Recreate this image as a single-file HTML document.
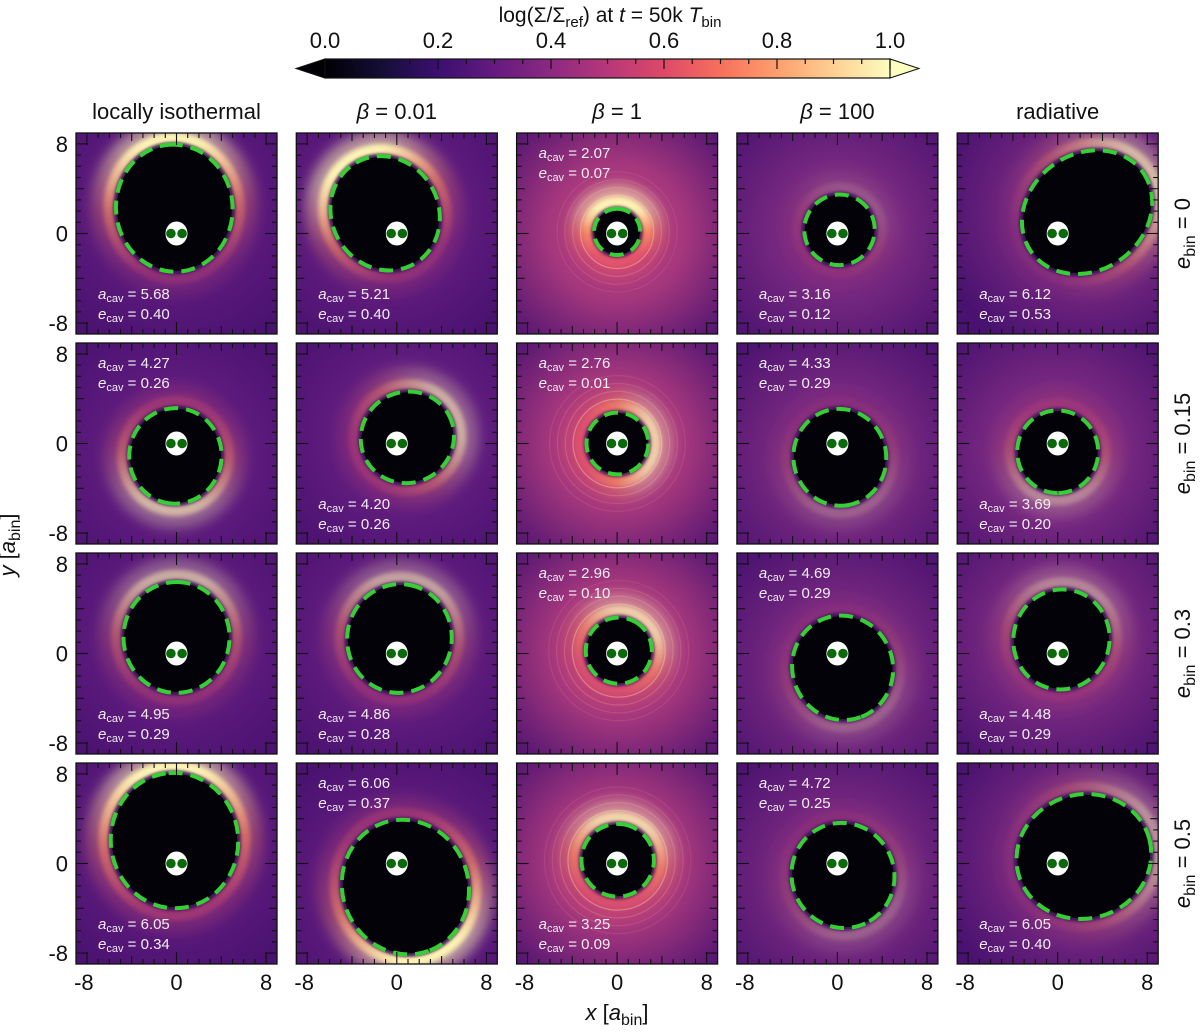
<!DOCTYPE html>
<html><head><meta charset="utf-8">
<style>
html,body{margin:0;padding:0;background:#fff;}
body{width:1200px;height:1031px;overflow:hidden;font-family:"Liberation Sans","DejaVu Sans",sans-serif;}
svg text{font-family:"Liberation Sans","DejaVu Sans",sans-serif;}
</style></head>
<body>
<svg id="fig" width="1200" height="1031" viewBox="0 0 1200 1031" xmlns="http://www.w3.org/2000/svg">
<defs>
<linearGradient id="magma" x1="0" x2="1" y1="0" y2="0">
<stop offset="0" stop-color="#000004"/><stop offset="0.1" stop-color="#140e36"/><stop offset="0.2" stop-color="#3b0f70"/>
<stop offset="0.3" stop-color="#641a80"/><stop offset="0.4" stop-color="#8c2981"/><stop offset="0.5" stop-color="#b73779"/>
<stop offset="0.6" stop-color="#de4968"/><stop offset="0.7" stop-color="#f7705c"/><stop offset="0.8" stop-color="#fe9f6d"/>
<stop offset="0.9" stop-color="#fecf92"/><stop offset="1" stop-color="#fcfdbf"/>
</linearGradient>
<filter id="blur8" x="-50%" y="-50%" width="200%" height="200%"><feGaussianBlur stdDeviation="6"/></filter>
<filter id="blur4" x="-50%" y="-50%" width="200%" height="200%"><feGaussianBlur stdDeviation="2.5"/></filter>
<filter id="blur2" x="-50%" y="-50%" width="200%" height="200%"><feGaussianBlur stdDeviation="1.5"/></filter>
</defs>
<text x="610" y="22" text-anchor="middle" font-size="21" fill="#111">log(Σ/Σ<tspan font-size="15" dy="5">ref</tspan><tspan dy="-5">) at </tspan><tspan font-style="italic">t</tspan> = 50k <tspan font-style="italic">T</tspan><tspan font-size="15" dy="5">bin</tspan></text>
<g id="cbar"></g>
<g id="panels"></g>
<text x="15" y="545" transform="rotate(-90 15 545)" text-anchor="middle" font-size="22" fill="#111"><tspan font-style="italic">y</tspan> [<tspan font-style="italic">a</tspan><tspan font-size="16" dy="5">bin</tspan><tspan dy="-5">]</tspan></text>
<text x="617" y="1020" text-anchor="middle" font-size="22" fill="#111"><tspan font-style="italic">x</tspan> [<tspan font-style="italic">a</tspan><tspan font-size="16" dy="5">bin</tspan><tspan dy="-5">]</tspan></text>
</svg>
<script>
const colTitles = ["locally isothermal","β = 0.01","β = 1","β = 100","radiative"];
const rowTitles = ["0","0.15","0.3","0.5"];
const aCav = [[5.68,5.21,2.07,3.16,6.12],[4.27,4.20,2.76,4.33,3.69],[4.95,4.86,2.96,4.69,4.48],[6.05,6.06,3.25,4.72,6.05]];
const eCav = [[0.40,0.40,0.07,0.12,0.53],[0.26,0.26,0.01,0.29,0.20],[0.29,0.28,0.10,0.29,0.29],[0.34,0.37,0.09,0.25,0.40]];
const apoAngle = [[95,120,90,60,36],[-95,30,0,-80,-90],[90,80,60,-70,75],[95,-70,80,-65,15]];
const ringLevel = [[1,1,1,0.15,0.6],[0.6,0.55,0.7,0.2,0.35],[0.55,0.5,0.7,0.2,0.35],[1,1,0.75,0.2,0.4]];
const labelTop = [[0,0,1,0,0],[1,0,1,1,0],[0,0,1,1,0],[0,1,0,1,0]];
const colBg = ["#5f1c7e","#621d7f","#a5377d","#74277f","#772880"];
const tickVals = [-8,0,8];
const cbTicks = [0.0,0.2,0.4,0.6,0.8,1.0];

const NS="http://www.w3.org/2000/svg";
function mk(tag,attrs,parent){const e=document.createElementNS(NS,tag);for(const k in attrs)e.setAttribute(k,attrs[k]);if(parent)parent.appendChild(e);return e;}

const cb=document.getElementById('cbar');
const cbX0=325,cbX1=890,cbY0=59,cbY1=78;
function cbx(v){return cbX0+(cbX1-cbX0)*v;}
let cbr=mk('rect',{x:cbX0,y:cbY0,width:cbX1-cbX0,height:cbY1-cbY0,fill:'url(#magma)'},cb);


let tl=mk('polygon',{points:`${cbX0},${cbY0} ${cbX0},${cbY1} 296,${(cbY0+cbY1)/2}`,fill:'#000004',stroke:'#111','stroke-width':1},cb);


let tr=mk('polygon',{points:`${cbX1},${cbY0} ${cbX1},${cbY1} 919,${(cbY0+cbY1)/2}`,fill:'#fcfdbf',stroke:'#111','stroke-width':1},cb);


mk('rect',{x:cbX0,y:cbY0,width:cbX1-cbX0,height:cbY1-cbY0,fill:'none',stroke:'#111','stroke-width':1.2},cb);
for(let v=0;v<=1.0001;v+=0.05){const major=Math.abs(v*5-Math.round(v*5))<1e-6;mk('line',{x1:cbx(v),x2:cbx(v),y1:cbY0,y2:cbY0+(major?10:5),stroke:'#111','stroke-width':1.2},cb);}
cbTicks.forEach(v=>{const t=mk('text',{x:cbx(v),y:48,'text-anchor':'middle','font-size':22,fill:'#111'},cb);t.textContent=v.toFixed(1);

});

const panels=document.getElementById('panels');
const PW=201,S=11.2;
for(let r=0;r<4;r++){for(let c=0;c<5;c++){
  const left=76+c*220.3, top=133+r*210;
  const cx0=left+PW/2, cy0=top+PW/2;
  const X=v=>cx0+v*S, Y=v=>cy0-v*S;
  const g=mk('g',{},panels);
  
  
  const cid=`clip${r}${c}`;
  const cp=mk('clipPath',{id:cid},g);mk('rect',{x:left,y:top,width:PW,height:PW},cp);
  const inner=mk('g',{'clip-path':`url(#${cid})`},g);
  const a=aCav[r][c], e=eCav[r][c], th=apoAngle[r][c]*Math.PI/180;
  const b=a*Math.sqrt(1-e*e);
  const ecx=a*e*Math.cos(th), ecy=a*e*Math.sin(th);
  const px=X(ecx), py=Y(ecy);
  const rot=-apoAngle[r][c];
  const gid=`bg${r}${c}`;
  const rg=mk('radialGradient',{id:gid,cx:px,cy:py,r:150,gradientUnits:'userSpaceOnUse'},g);
  mk('stop',{offset:0,'stop-color':c===2?'#c0407b':'#8a2a80'},rg);mk('stop',{offset:0.45,'stop-color':colBg[c]},rg);mk('stop',{offset:1,'stop-color':'#4a1270'},rg);
  const bgr=mk('rect',{x:left,y:top,width:PW,height:PW,fill:`url(#${gid})`},inner);
  
  
  const lid=`ring${r}${c}`;
  const lg=mk('linearGradient',{id:lid,gradientUnits:'userSpaceOnUse',x1:px-a*S,y1:py,x2:px+a*S,y2:py},g);
  const lv=ringLevel[r][c];
  const asym=Math.min(1,e*2.2);
  mk('stop',{offset:0,'stop-color':'#e8566a','stop-opacity':lv*(1-asym*0.85)},lg);
  mk('stop',{offset:0.5,'stop-color':'#f98a62','stop-opacity':lv*(1-asym*0.5)},lg);
  mk('stop',{offset:1,'stop-color':'#fdf3b4','stop-opacity':lv},lg);
  const el=(ra,rb,attrs)=>mk('ellipse',Object.assign({cx:px,cy:py,rx:ra*S,ry:rb*S,transform:`rotate(${rot} ${px} ${py})`},attrs),inner);
  el(a+1.2,b+1.2,{fill:'none',stroke:`url(#${lid})`,'stroke-width':S*2.0,'stroke-opacity':0.55,filter:'url(#blur8)'});
  el(a+0.55,b+0.55,{fill:'none',stroke:`url(#${lid})`,'stroke-width':S*1.1,filter:'url(#blur4)'});
  if(c===2){for(let k=1;k<=4;k++){el(a+0.5+k*0.7,b+0.5+k*0.7,{fill:'none',stroke:'#fcd8a8','stroke-opacity':0.4/k,'stroke-width':1.2});}}
  el(a*1.0,b*1.0,{fill:'none',stroke:'#2a0a4a','stroke-width':4,filter:'url(#blur2)'});
  const cav=el(a*0.985,b*0.985,{fill:'#030208'});
  
  
  const fit=el(a,b,{fill:'none',stroke:'#35d035','stroke-width':4,'stroke-dasharray':'14 8'});
  
  
  const bin=mk('ellipse',{cx:X(0),cy:Y(0),rx:11,ry:12,fill:'#fff'},inner);
  
  
  [-0.5,0.5].forEach(d=>{const s=mk('circle',{cx:X(d),cy:Y(0),r:4.8,fill:'#0a6a0a'},inner);
    
    });
  const ly = labelTop[r][c] ? top+25 : top+PW-35;
  const t1=mk('text',{x:left+22,y:ly,'font-size':15,fill:'#f2eef2'},g);
  t1.innerHTML=`<tspan font-style="italic">a</tspan><tspan font-size="11" dy="3">cav</tspan><tspan dy="-3"> = ${a.toFixed(2)}</tspan>`;
  
  
  const t2=mk('text',{x:left+22,y:ly+20,'font-size':15,fill:'#f2eef2'},g);
  t2.innerHTML=`<tspan font-style="italic">e</tspan><tspan font-size="11" dy="3">cav</tspan><tspan dy="-3"> = ${e.toFixed(2)}</tspan>`;
  
  
  mk('rect',{x:left,y:top,width:PW,height:PW,fill:'none',stroke:'#111','stroke-width':1.3},g);
  for(let v=-8;v<=8;v++){
    const L=(v%8===0)?12:(v%4===0?8:5);
    const xx=X(v), yy=Y(v);
    mk('line',{x1:xx,x2:xx,y1:top,y2:top+L,stroke:'#111','stroke-width':1.1},g);
    mk('line',{x1:xx,x2:xx,y1:top+PW,y2:top+PW-L,stroke:'#111','stroke-width':1.1},g);
    mk('line',{y1:yy,y2:yy,x1:left,x2:left+L,stroke:'#111','stroke-width':1.1},g);
    mk('line',{y1:yy,y2:yy,x1:left+PW,x2:left+PW-L,stroke:'#111','stroke-width':1.1},g);
  }
  if(c===0){tickVals.forEach(v=>{const t=mk('text',{x:left-8,y:Y(v)+8,'text-anchor':'end','font-size':22,fill:'#111'},g);t.textContent=v;
    
    });}
  if(r===3){tickVals.forEach(v=>{const t=mk('text',{x:X(v)-(v<0?3:0),y:top+PW+26,'text-anchor':'middle','font-size':22,fill:'#111'},g);t.textContent=v;
    
    });}
  if(r===0){const t=mk('text',{x:cx0,y:119,'text-anchor':'middle','font-size':22,fill:'#111'},g);
    if(c===1||c===2||c===3){t.innerHTML=`<tspan font-style="italic">β</tspan>${colTitles[c].slice(1)}`;}else{t.textContent=colTitles[c];}
    
    }
  if(c===4){const tx=1190, ty=cy0;const t=mk('text',{x:tx,y:ty,transform:`rotate(-90 ${tx} ${ty})`,'text-anchor':'middle','font-size':22,fill:'#111'},g);
    t.innerHTML=`<tspan font-style="italic">e</tspan><tspan font-size="16" dy="5">bin</tspan><tspan dy="-5"> = ${rowTitles[r]}</tspan>`;
    
    }
}}
</script>
</body></html>
